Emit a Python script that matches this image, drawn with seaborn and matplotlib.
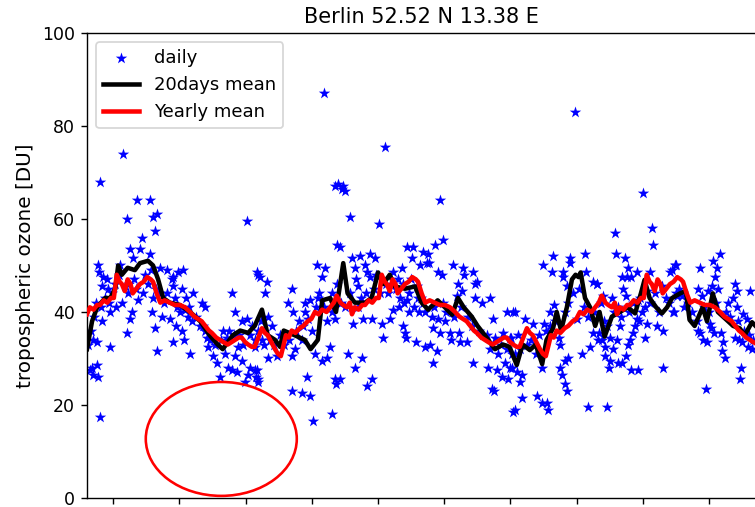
import numpy as np
import pandas as pd
import matplotlib
matplotlib.use("Agg")
import matplotlib.pyplot as plt
import seaborn as sns
from matplotlib.patches import Ellipse

# ---------------- data (day index, tropospheric ozone in DU) ----------------
daily_r1 = [(50, 74), (18, 68), (69, 64), (87, 64), (55, 60), (91, 60.5), (96, 61), (94, 57.5), (76, 56), (59, 53.5),
            (73, 53.5), (87, 52.5), (63, 51.5), (15, 50), (16, 48.5), (22, 47.5), (28, 47), (21, 45.5), (29, 45), (52, 45.5),
            (56, 44), (77, 44), (91, 43), (101, 49.5), (110, 49), (117, 47), (70, 42.5), (48, 42), (90, 40), (62, 40),
            (32, 40), (59, 38.5), (21, 38), (103, 39), (114, 38.5), (94, 36.5), (55, 35.5), (8, 34), (14, 33.5), (118, 33.5),
            (32, 32.5), (96, 31.5), (7, 28), (14, 28.5), (4, 27.5), (8, 26.5), (15, 26), (18, 17.5),
            (2, 33), (5, 36), (10, 39), (12, 42), (20, 41), (25, 43), (30, 42), (35, 44), (38, 46), (40, 41),
            (44, 48), (46, 50), (58, 46), (65, 47), (68, 45), (80, 48), (84, 46), (88, 49), (95, 45), (99, 44)]

daily_r2 = [(220, 59.5), (234, 48.5), (238, 47.5), (200, 44), (118, 47.5), (125, 48.5), (132, 49), (119, 45.5), (131, 45), (146, 44),
            (158, 42), (162, 41), (121, 43), (135, 40.5), (139, 39), (145, 38), (122, 37), (131, 36), (133, 34),
            (142, 31), (160, 37), (165, 34.5), (167, 32.5), (173, 30.5), (179, 29), (194, 28), (200, 27.5), (207, 27), (183, 26),
            (204, 40), (213, 38), (220, 38.5), (227, 37), (187, 36), (193, 34.5), (204, 30.5), (213, 29.5), (224, 28), (231, 27.5),
            (208, 32.5), (231, 34), (222, 26.5), (233, 26), (218, 25), (236, 25),
            (106, 42), (110, 44), (124, 41), (128, 40), (136, 43), (140, 41), (150, 39), (155, 37), (163, 36), (170, 34), (176, 33),
            (185, 34), (190, 31), (196, 36), (203, 35), (210, 35), (215, 33), (225, 35), (236, 36), (240, 38), (244, 33)]

daily_r3 = [(341, 67), (351, 66.5), (346, 67.5), (344, 54.5), (317, 50), (328, 49.5), (324, 47.5), (235, 48), (248, 46.5), (245, 44),
            (282, 45), (277, 42), (284, 40), (300, 42), (307, 42.5), (318, 43), (330, 38), (249, 39), (255, 37), (232, 32.5),
            (241, 34), (249, 30), (262, 30.5), (282, 30.5), (286, 32), (234, 27.5), (235, 25.5), (314, 31), (324, 29.5), (330, 30),
            (335, 32.5), (303, 26), (282, 23), (296, 22.5), (307, 22), (341, 25.5), (343, 24.5), (311, 16.5), (337, 18), (337, 40),
            (341, 38.5), (300, 40), (304, 38.5), (296, 34), (326, 87),
            (252, 34), (258, 33), (266, 35), (272, 33), (278, 34), (288, 36), (292, 38), (298, 37), (310, 36), (316, 41), (320, 44), (326, 41)]

daily_r4 = [(410, 75.5), (353, 67), (355, 66), (362, 60.5), (402, 59), (348, 54), (441, 54), (449, 54), (463, 53), (448, 51.5),
            (459, 50), (468, 50.5), (365, 51.5), (376, 52), (390, 52.5), (397, 51.5), (369, 49.5), (383, 50), (386, 48.5), (390, 47.5),
            (370, 47), (373, 45.5), (434, 49.5), (421, 48.5), (428, 47), (435, 46), (447, 47), (454, 45.5), (431, 43), (441, 42.5),
            (456, 43), (463, 42), (421, 40.5), (443, 40), (458, 40), (366, 37.5), (380, 38.5), (392, 38.5), (406, 37.5), (417, 38.5),
            (408, 34.5), (435, 37), (438, 35.5), (440, 34.5), (453, 33.5), (465, 32.5), (359, 31), (379, 30), (369, 28), (392, 25.5),
            (386, 24), (348, 25.5),
            (338, 44), (345, 46), (350, 42), (356, 41), (362, 44), (373, 41), (377, 43), (384, 44), (395, 45), (398, 48),
            (404, 44), (412, 46), (415, 44), (425, 45), (430, 41), (437, 42), (444, 44), (450, 41), (460, 43), (466, 40)]

daily_r5 = [(486, 64), (479, 54.5), (490, 55.5), (470, 52.5), (471, 50.5), (504, 50), (483, 48.5), (489, 48), (518, 49.5), (519, 48),
            (532, 48.5), (534, 46), (537, 46.5), (511, 46), (516, 44.5), (509, 43.5), (535, 43), (544, 42), (555, 43), (559, 38.5),
            (578, 40), (587, 40), (475, 39), (484, 38.5), (493, 38), (476, 36.5), (486, 35.5), (500, 35.5), (512, 35.5), (501, 34),
            (514, 33.5), (523, 33.5), (472, 33), (482, 31.5), (476, 29), (532, 29), (551, 35), (562, 34.5), (573, 35.5), (582, 34.5),
            (552, 28), (565, 27.5), (576, 29), (583, 28), (558, 23.5), (560, 23), (571, 26), (580, 25.5), (587, 18.5),
            (478, 41), (490, 42), (495, 40), (505, 39), (515, 41), (525, 39), (530, 37), (540, 36), (545, 35), (555, 32)]

daily_r6 = [(686, 52.5), (642, 52), (665, 51.5), (666, 50.5), (628, 50), (640, 48.5), (655, 48.5), (656, 47.5), (661, 45.5), (688, 48.5),
            (697, 46.5), (702, 46), (589, 40), (603, 38.5), (614, 37.5), (629, 37.5), (643, 41.5), (638, 40), (584, 34.5), (585, 31),
            (596, 32), (585, 28), (592, 27), (599, 26.5), (597, 25), (627, 28), (651, 33), (652, 28), (654, 26.5), (658, 24.5),
            (661, 23), (662, 30), (659, 29.5), (682, 31), (693, 32.5), (697, 35.5), (704, 34), (599, 21.5), (620, 22), (627, 20.5),
            (634, 20.5), (635, 19), (589, 19), (690, 19.5), (650, 34.5), (675, 38.5), (672, 83),
            (566, 31), (570, 33), (578, 32), (590, 31), (594, 35), (606, 33), (612, 34), (618, 31), (622, 35), (632, 36),
            (638, 37), (645, 38), (658, 40), (663, 42), (670, 44), (678, 45), (684, 41), (690, 39), (698, 40)]

daily_r7 = [(766, 65.5), (727, 57), (778, 58), (779, 54.5), (728, 52.5), (741, 51.5), (745, 49.5), (744, 47.5), (750, 47.5), (757, 48.5),
            (737, 47.5), (810, 50), (803, 48.5), (775, 48.5), (703, 46), (738, 45), (742, 43.5), (772, 44.5), (792, 45.5), (811, 44),
            (711, 43.5), (723, 43), (759, 42.5), (768, 41), (807, 40), (716, 37), (734, 37), (755, 37), (758, 38.5), (761, 38),
            (771, 37.5), (785, 37), (793, 36), (769, 34.5), (705, 35.5), (709, 34), (720, 34.5), (730, 34), (713, 32.5), (724, 32),
            (745, 33), (748, 34), (752, 35.5), (714, 30.5), (721, 29.5), (731, 29), (743, 30.5), (719, 28), (737, 29), (749, 27.5),
            (759, 27.5), (794, 28), (716, 19.5),
            (708, 42), (712, 38), (726, 40), (732, 41), (736, 39), (746, 40), (752, 42), (762, 43), (765, 40), (776, 42),
            (782, 44), (788, 40), (797, 43)]

daily_r8 = [(872, 52.5), (862, 51), (868, 49.5), (812, 50), (806, 49), (844, 49.5), (865, 47.5), (861, 45.5), (869, 45), (855, 44.5),
            (892, 46), (895, 44.5), (890, 43), (913, 44.5), (841, 45), (847, 43.5), (813, 43.5), (819, 43.5), (896, 41), (883, 42),
            (809, 40), (903, 39.5), (909, 38.5), (897, 38), (840, 38), (842, 36), (845, 35.5), (858, 37.5), (860, 36.5), (863, 35.5),
            (848, 34), (854, 33.5), (874, 35.5), (876, 33.5), (875, 31.5), (879, 30), (893, 34.5), (898, 34), (902, 33.5), (910, 32.5),
            (916, 32), (901, 28), (899, 25.5), (853, 23.5),
            (802, 42), (816, 45), (822, 41), (828, 42), (834, 40), (850, 41), (857, 40), (866, 42), (880, 40), (886, 39),
            (905, 36), (912, 35), (918, 34)]

# 20-day running mean (day, DU)
mean20_day = [0, 7, 14, 25, 32, 39, 43, 48, 56, 66, 73, 84, 91, 98, 105, 114, 128, 142, 156, 169,
              180, 187, 194, 201, 211, 222, 231, 241, 249, 259, 266, 271, 286, 300, 308, 318, 324, 335, 343, 353,
              359, 369, 383, 392, 401, 408, 417, 424, 438, 452, 461, 470, 483, 493, 503, 511, 519, 530, 538, 548,
              562, 573, 582, 592, 600, 610, 618, 627, 633, 642, 647, 653, 661, 668, 673, 677, 680, 686, 693, 700,
              706, 713, 723, 734, 745, 755, 763, 768, 775, 784, 792, 799, 806, 817, 825, 830, 837, 848, 854, 862,
              869, 881, 890, 899, 906, 916, 927]
mean20_du = [32, 38, 41, 43, 43, 45, 50, 48, 49.5, 49, 50.5, 51, 50, 47, 43, 42, 41.5, 40, 38, 35,
             33, 32, 33.5, 35, 36, 35.5, 37, 40.5, 35, 34, 32.5, 36, 35, 34, 32, 34, 42.5, 43, 40, 50.5,
             44, 42, 42, 43, 48.5, 46, 48, 45.5, 45, 45.5, 42, 40.5, 42.5, 41, 39.4, 43, 41, 39, 37, 35,
             32, 33, 32.5, 28.6, 33, 31.8, 33, 28.8, 34, 36.5, 40, 36, 41, 47, 48, 47.5, 48.5, 43, 41, 37,
             40, 34.7, 39, 40, 41, 39.7, 44, 46.9, 43, 41, 39.7, 41, 43, 44, 44.5, 38.3, 37, 41, 38, 44,
             40, 38.3, 37, 36.5, 35, 37.8, 36]

# Yearly mean: day-of-year climatology, repeated for each year shown
clim_doy = [0, 4, 9, 14, 18, 23, 28, 33, 37, 41, 45, 48, 52, 56, 60, 63, 68, 73, 78, 83,
            88, 91, 96, 101, 107, 114, 121, 128, 135, 142, 148, 153, 158, 163, 168, 172, 178, 183, 188, 194,
            199, 204, 209, 213, 218, 222, 227, 231, 236, 241, 245, 249, 254, 259, 263, 267, 271, 274, 278, 282,
            287, 293, 298, 304, 309, 314, 319, 324, 330, 335, 340, 344, 349, 353, 358, 362]
clim_du = [39.5, 41, 40.5, 41.5, 41.5, 42.5, 42, 43, 43, 48, 46.5, 46, 44.5, 47, 46, 44, 45, 46, 46.5, 47.5,
           47, 46.5, 44, 42, 42.5, 42, 41.5, 41.5, 41, 40, 39, 38.5, 38, 37, 36, 35.5, 34.5, 34, 33.5, 33,
           33.5, 34, 34.5, 34.5, 33.5, 33, 32.5, 32.5, 34.5, 36.5, 35.5, 35, 33.5, 32, 31, 30.5, 33, 35, 34.5, 36,
           35.5, 36.5, 37, 38, 38.5, 40, 39.5, 40.5, 40, 41, 42, 43.5, 42, 41.5, 41, 42]
year_offsets = [0, 365, 730]

y_ticks = [0, 20, 40, 60, 80, 100]

# ---------------- build frames ----------------
daily = pd.DataFrame(daily_r1 + daily_r2 + daily_r3 + daily_r4 + daily_r5 + daily_r6 + daily_r7 + daily_r8,
                     columns=["day", "du"]).sort_values("day")
mean20 = pd.DataFrame({"day": mean20_day, "du": mean20_du})
yearly = pd.DataFrame({
    "day": np.concatenate([np.array(clim_doy) + off for off in year_offsets]),
    "du": np.concatenate([np.array(clim_du, dtype=float) for _ in year_offsets]),
})

# ---------------- plot ----------------
DPI = 125
fig = plt.figure(figsize=(755 / DPI, 507 / DPI), dpi=DPI)
ax = fig.add_axes([0.1152, 0.0178, 0.8861, 0.9172])

sns.scatterplot(data=daily, x="day", y="du", marker="*", color="blue", s=48,
                linewidth=0, label="daily", ax=ax, zorder=2)
sns.lineplot(data=mean20, x="day", y="du", estimator=None, sort=False, color="black",
             lw=2.6, label="20days mean", ax=ax, zorder=3)
sns.lineplot(data=yearly, x="day", y="du", estimator=None, sort=False, color="red",
             lw=2.6, label="Yearly mean", ax=ax, zorder=4)

ax.add_patch(Ellipse((185, 12.7), 208, 24.5, fill=False, edgecolor="red", lw=1.5, zorder=5))

ax.set_xlim(0, 921.5)
ax.set_ylim(0, 100)
ax.set_yticks(y_ticks)
ax.set_xticks([36 + 91.2 * k for k in range(10)])
ax.set_xticklabels([])
ax.set_xlabel("")
ax.set_ylabel("tropospheric ozone [DU]", fontsize=11.5)
ax.set_title("Berlin 52.52 N 13.38 E", fontsize=12)
ax.legend(loc="upper left", fontsize=10.4)

fig.savefig("out.png", dpi=DPI)
